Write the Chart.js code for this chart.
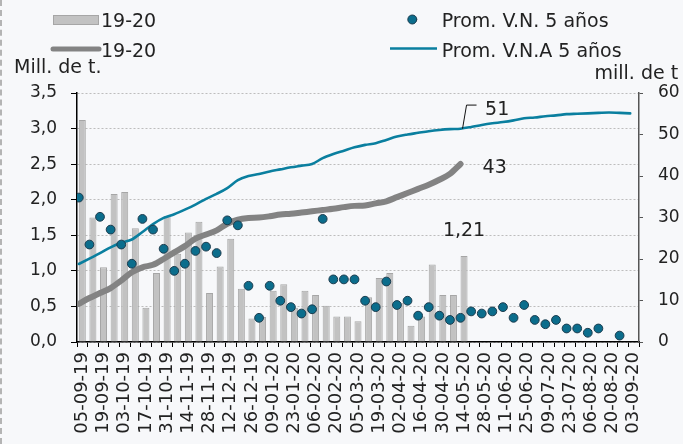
<!DOCTYPE html>
<html>
<head>
<meta charset="utf-8">
<script src="https://cdn.jsdelivr.net/npm/chart.js@4.4.0/dist/chart.umd.min.js"></script>
<style>
html,body{margin:0;padding:0;background:#f7f8fa;}
#wrap{position:relative;width:683px;height:444px;overflow:hidden;}
#edge{position:absolute;left:0;top:0;bottom:0;border-left:2px dashed #b4b4b4;}
canvas{display:block;}
</style>
</head>
<body>
<div id="wrap"><canvas id="c" width="683" height="444"></canvas><div id="edge"></div></div>
<script>
// Weekly categories (Thursdays)
const weeks = ['05-09-19','12-09-19','19-09-19','26-09-19','03-10-19','10-10-19','17-10-19','24-10-19',
  '31-10-19','07-11-19','14-11-19','21-11-19','28-11-19','05-12-19','12-12-19','19-12-19','26-12-19',
  '02-01-20','09-01-20','16-01-20','23-01-20','30-01-20','06-02-20','13-02-20','20-02-20','27-02-20',
  '05-03-20','12-03-20','19-03-20','26-03-20','02-04-20','09-04-20','16-04-20','23-04-20','30-04-20',
  '07-05-20','14-05-20','21-05-20','28-05-20','04-06-20','11-06-20','18-06-20','25-06-20','02-07-20',
  '09-07-20','16-07-20','23-07-20','30-07-20','06-08-20','13-08-20','20-08-20','27-08-20','03-09-20'];

// 19-20 weekly volume (bars, left axis, mill. de t.)
const weekly1920 = [3.12,1.75,1.05,2.08,2.11,1.60,0.48,0.97,1.77,1.24,1.54,1.69,0.69,1.06,1.45,0.75,
  0.33,0.35,0.72,0.81,0.48,0.72,0.66,0.51,0.36,0.36,0.29,0.63,0.90,0.97,0.55,0.23,0.36,1.09,0.66,0.66,1.21];

// Prom. V.N. 5 años (dots, left axis)
const avgWeekly5 = [2.03,1.37,1.76,1.58,1.37,1.10,1.73,1.58,1.31,1.00,1.10,1.28,1.34,1.25,1.71,1.64,
  0.79,0.34,0.79,0.58,0.49,0.40,0.46,1.73,0.88,0.88,0.88,0.58,0.49,0.85,0.52,0.58,0.37,0.49,0.37,0.31,
  0.34,0.43,0.40,0.43,0.49,0.34,0.52,0.31,0.25,0.31,0.19,0.19,0.13,0.19,null,0.09,null];

// 19-20 accumulated (gray line, right axis)
const cum1920 = [9.2,10.6,11.8,13.0,14.8,16.8,18.0,18.6,20.0,21.6,23.1,24.9,25.9,26.9,28.5,29.5,29.9,
  30.0,30.3,30.7,30.9,31.2,31.5,31.8,32.1,32.5,32.8,32.9,33.4,33.9,34.9,35.9,36.9,37.9,39.1,40.5,42.9];

// Prom. V.N.A 5 años (blue line, right axis)
const avgCum5 = [18.8,20.1,21.4,22.8,23.9,24.7,26.5,28.4,29.9,30.8,31.9,33.1,34.5,35.7,37.1,39.0,40.0,
  40.5,41.1,41.6,42.1,42.5,42.9,44.3,45.3,46.1,46.9,47.5,47.9,48.7,49.5,50.0,50.4,50.8,51.1,51.3,51.4,
  51.8,52.3,52.7,53.0,53.4,53.9,54.1,54.4,54.6,54.9,55.0,55.1,55.2,55.3,55.2,55.1];

const leftTitle = 'Mill. de t.';
const rightTitle = 'mill. de t';

const FONT = '"DejaVu Sans", sans-serif';
const TXT = '#222222';
const C_BAR = '#c2c2c2', C_BAR_B = '#a6a6a6';
const C_GRAY = '#838383';
const C_BLUE = '#0a7f9f';
const C_DOT = '#0b6d8c', C_DOT_B = '#1b3b4d';

const pts = arr => arr.map((v, i) => ({x: i, y: v}));

const overlay = {
  id: 'overlay',
  afterDraw(chart) {
    const ctx = chart.ctx;
    const ds = chart.data.datasets;
    ctx.save();
    ctx.font = '19px ' + FONT;
    ctx.fillStyle = TXT;
    ctx.textBaseline = 'alphabetic';
    ctx.textAlign = 'left';
    // legend
    ctx.fillStyle = C_BAR; ctx.fillRect(53.5, 15.5, 45, 9);
    ctx.strokeStyle = C_BAR_B; ctx.lineWidth = 1; ctx.strokeRect(53.5, 15.5, 45, 9);
    ctx.fillStyle = TXT; ctx.fillText(ds[0].label, 101, 27.3);
    ctx.beginPath(); ctx.lineCap = 'round'; ctx.strokeStyle = C_GRAY; ctx.lineWidth = 5;
    ctx.moveTo(53, 49); ctx.lineTo(99, 49); ctx.stroke();
    ctx.fillText(ds[1].label, 101, 56.5);
    ctx.beginPath(); ctx.arc(412.3, 19.5, 4.5, 0, Math.PI * 2);
    ctx.fillStyle = C_DOT; ctx.fill(); ctx.lineWidth = 1; ctx.strokeStyle = C_DOT_B; ctx.stroke();
    ctx.fillStyle = TXT; ctx.fillText(ds[3].label, 441.7, 27.3);
    ctx.beginPath(); ctx.lineCap = 'butt'; ctx.strokeStyle = C_BLUE; ctx.lineWidth = 2.7;
    ctx.moveTo(390, 48.5); ctx.lineTo(437, 48.5); ctx.stroke();
    ctx.fillText(ds[2].label, 441.7, 56.5);
    // axis titles
    ctx.fillText(leftTitle, 14, 72.7);
    ctx.fillText(rightTitle, 594.5, 79);
    // annotation: last bar
    const barMeta = chart.getDatasetMeta(0);
    const lb = barMeta.data[weekly1920.length - 1];
    ctx.textAlign = 'center';
    ctx.fillText(weekly1920[weekly1920.length - 1].toFixed(2).replace('.', ','), lb.x, lb.y - 19.6);
    // annotation: gray end
    ctx.textAlign = 'left';
    const gm = chart.getDatasetMeta(1);
    const ge = gm.data[cum1920.length - 1];
    ctx.fillText(String(Math.round(cum1920[cum1920.length - 1])), ge.x + 22, ge.y + 8.7);
    // annotation: blue at same week with leader
    const bm = chart.getDatasetMeta(2);
    const idx = cum1920.length - 1;
    const be = bm.data[idx];
    ctx.beginPath(); ctx.strokeStyle = '#111'; ctx.lineWidth = 1;
    ctx.moveTo(be.x + 2, be.y); ctx.lineTo(be.x + 6, be.y - 23.6); ctx.lineTo(be.x + 16, be.y - 23.6);
    ctx.stroke();
    ctx.fillText(String(Math.floor(avgCum5[idx])), be.x + 24.5, be.y - 14);
    ctx.restore();
  }
};

new Chart(document.getElementById('c'), {
  type: 'line',
  data: {
    labels: weeks,
    datasets: [
      {type: 'bar', label: '19-20', data: weekly1920, xAxisID: 'x', yAxisID: 'y',
        backgroundColor: C_BAR, borderColor: C_BAR_B, borderWidth: 1, grouped: false,
        barPercentage: 0.66, categoryPercentage: 1, order: 3},
      {type: 'line', label: '19-20', data: pts(cum1920), xAxisID: 'xp', yAxisID: 'y2',
        borderColor: C_GRAY, borderWidth: 6, pointRadius: 0, cubicInterpolationMode: 'monotone',
        borderCapStyle: 'round', borderJoinStyle: 'round', order: 2},
      {type: 'line', label: 'Prom. V.N.A 5 años', data: pts(avgCum5), xAxisID: 'xp', yAxisID: 'y2',
        borderColor: C_BLUE, borderWidth: 2.6, pointRadius: 0, cubicInterpolationMode: 'monotone',
        borderCapStyle: 'round', order: 1},
      {type: 'line', label: 'Prom. V.N. 5 años', data: pts(avgWeekly5), xAxisID: 'xp', yAxisID: 'y',
        showLine: false, pointRadius: 4.4, pointBackgroundColor: C_DOT, pointBorderColor: C_DOT_B,
        pointBorderWidth: 1, order: 0}
    ]
  },
  options: {
    responsive: false,
    animation: false,
    devicePixelRatio: 1,
    layout: {padding: {top: 93, left: 0, right: 0, bottom: 0}},
    plugins: {legend: {display: false}, tooltip: {enabled: false}},
    scales: {
      x: {
        type: 'category', offset: true, position: 'bottom',
        grid: {offset: true, drawOnChartArea: false, tickLength: 5, tickColor: '#000', lineWidth: 1},
        border: {color: '#000', width: 1.5},
        ticks: {autoSkip: false, minRotation: 90, maxRotation: 90, padding: 5, color: TXT,
          font: {family: FONT, size: 18},
          callback: (v, i) => (i % 2 === 0 ? weeks[i] : '')},
        afterFit: s => { s.height = 102; }
      },
      xp: {type: 'linear', position: 'bottom', display: false, offset: false,
        grid: {offset: false}, bounds: 'data', min: -0.17, max: 52.83},
      y: {
        position: 'left', min: 0, max: 3.5,
        ticks: {stepSize: 0.5, padding: 14, color: TXT, font: {family: FONT, size: 17},
          callback: v => v.toFixed(1).replace('.', ',')},
        grid: {color: '#bdbdbd', lineWidth: 1, tickLength: 6, tickColor: '#000'},
        border: {color: '#000', width: 1.5, dash: [2, 2]},
        afterFit: s => { s.width = 77; }
      },
      y2: {
        position: 'right', min: 0, max: 60,
        ticks: {stepSize: 10, padding: 15, color: TXT, font: {family: FONT, size: 17}},
        grid: {drawOnChartArea: false, tickLength: 4, tickColor: '#555'},
        border: {color: '#555', width: 1.5},
        afterFit: s => { s.width = 44; }
      }
    }
  },
  plugins: [overlay]
});
</script>
</body>
</html>
